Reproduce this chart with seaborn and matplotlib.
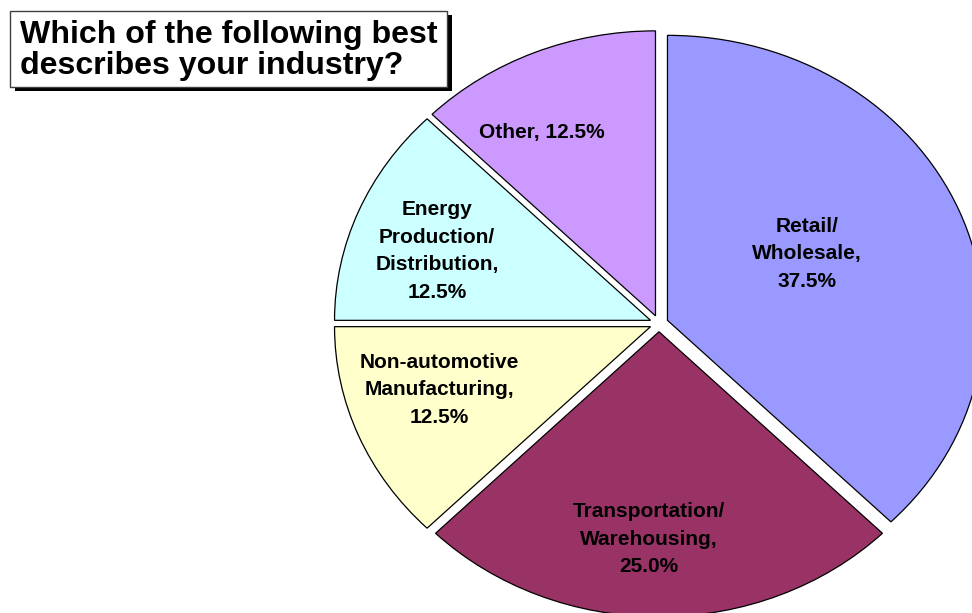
import matplotlib
matplotlib.use("Agg")
import matplotlib.pyplot as plt
from matplotlib.patches import Rectangle
import seaborn as sns

# ---- data ----
categories = ["Retail/\nWholesale,", "Transportation/\nWarehousing,",
              "Non-automotive\nManufacturing,", "Energy\nProduction/\nDistribution,",
              "Other,"]
shares = [37.5, 25.0, 12.5, 12.5, 12.5]
colors = ["#9999FF", "#993366", "#FFFFCC", "#CCFFFF", "#CC99FF"]
title = "Which of the following best\ndescribes your industry?"

# label centres in pie-radius units (layout only)
label_pos = [(0.468, 0.244), (-0.033, -0.757), (-0.696, -0.232),
             (-0.703, 0.254), (-0.370, 0.671)]
label_sep = ["\n", "\n", "\n", "\n", " "]

sns.set_style("white")
plt.rcParams["font.family"] = ["Liberation Sans", "DejaVu Sans"]

W, H = 972, 613
fig = plt.figure(figsize=(W / 100, H / 100), dpi=100)
ax = fig.add_axes([0, 0, 1, 1])

pal = sns.color_palette(colors)
wedges, _ = ax.pie(shares, colors=pal, startangle=90, counterclock=False,
                   explode=[0.029] * len(shares),
                   wedgeprops=dict(edgecolor="black", linewidth=0.9))

# elliptical pie: centre at (659, 323.5) px, rx=316 px, ry=285 px
cx, cy, rx, ry = 659, 323.5, 316, 285
ax.set_aspect("auto")
ax.set_xlim((0 - cx) / rx, (W - cx) / rx)
ax.set_ylim((cy - H) / ry, (cy - 0) / ry)
ax.set_axis_off()

for cat, val, sep, (lx, ly) in zip(categories, shares, label_sep, label_pos):
    ax.text(lx, ly, f"{cat}{sep}{val:.1f}%", ha="center", va="center",
            multialignment="center", fontsize=15, fontweight="bold",
            linespacing=1.57, color="black")

# title box with shadow
bx0, by0, bx1, by1 = 10, 11, 447, 87
fig.add_artist(Rectangle(((bx0 + 5) / W, (H - by1 - 4) / H), (bx1 - bx0) / W,
                         (by1 - by0) / H, transform=fig.transFigure,
                         facecolor="black", edgecolor="none", zorder=5))
fig.add_artist(Rectangle((bx0 / W, (H - by1) / H), (bx1 - bx0) / W,
                         (by1 - by0) / H, transform=fig.transFigure,
                         facecolor="white", edgecolor="#404040", linewidth=1.0,
                         zorder=6))
fig.text(20 / W, 1 - 20 / H, title, ha="left", va="top", fontsize=23.1,
         fontweight="bold", linespacing=1.04, color="black", zorder=7)

fig.savefig("out.png", dpi=100)
